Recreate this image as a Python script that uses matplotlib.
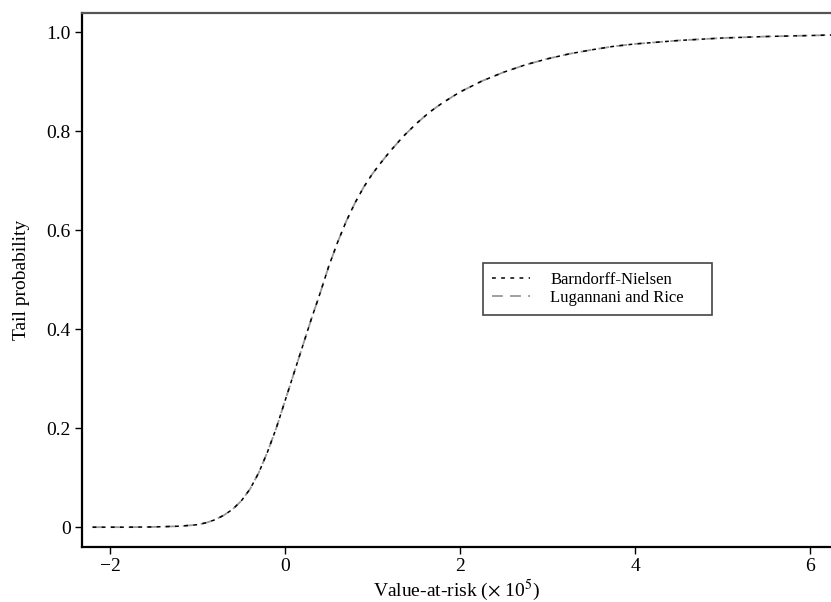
import numpy as np
import matplotlib.pyplot as plt

plt.rcParams['font.family'] = ['Liberation Serif', 'DejaVu Serif']
plt.rcParams['mathtext.fontset'] = 'stix'

# value-at-risk (x 10^5) and tail probability
var_x = [-2.2, -1.8, -1.5, -1.2, -1.0, -0.9, -0.8, -0.7, -0.6, -0.5, -0.4,
         -0.3, -0.2, -0.1, 0.0, 0.1, 0.2, 0.3, 0.4, 0.5, 0.6, 0.7, 0.8, 0.9,
         1.0, 1.1, 1.2, 1.35, 1.5, 1.65, 1.8, 2.0, 2.25, 2.5, 2.75, 3.0,
         3.25, 3.5, 3.75, 4.0, 4.5, 5.0, 5.5, 6.0, 6.24]
bn_prob = [0.0, 0.0, 0.0005, 0.002, 0.005, 0.009, 0.015, 0.024, 0.036, 0.053,
           0.077, 0.11, 0.152, 0.2, 0.255, 0.31, 0.365, 0.42, 0.472, 0.527,
           0.575, 0.618, 0.655, 0.687, 0.714, 0.737, 0.759, 0.789, 0.815,
           0.838, 0.857, 0.879, 0.901, 0.919, 0.934, 0.946, 0.956, 0.964,
           0.971, 0.976, 0.983, 0.988, 0.991, 0.993, 0.994]
lr_prob = [0.0, 0.0, 0.0005, 0.002, 0.005, 0.009, 0.015, 0.024, 0.036, 0.053,
           0.077, 0.11, 0.152, 0.2, 0.255, 0.31, 0.365, 0.42, 0.472, 0.527,
           0.575, 0.618, 0.655, 0.687, 0.714, 0.737, 0.759, 0.789, 0.815,
           0.838, 0.857, 0.879, 0.901, 0.919, 0.934, 0.946, 0.956, 0.964,
           0.971, 0.976, 0.983, 0.988, 0.991, 0.993, 0.994]

x_ticks = [-2, 0, 2, 4, 6]
x_labels = ['\u22122', '0', '2', '4', '6']
y_ticks = [0, 0.2, 0.4, 0.6, 0.8, 1.0]
y_labels = ['0', '0.2', '0.4', '0.6', '0.8', '1.0']

fig = plt.figure(figsize=(8.31, 6.02), dpi=100)
ax = fig.add_axes([0.0987, 0.0914, 0.9013, 0.8866])

ax.plot(var_x, lr_prob, color='#999999', lw=1.3, dashes=(6, 4), label='Lugannani and Rice')
ax.plot(var_x, bn_prob, color='black', lw=1.1, dashes=(2.5, 3.5), label='Barndorff-Nielsen')

ax.set_xlim(-2.32, 6.24)
ax.set_ylim(-0.04, 1.038)
ax.set_xticks(x_ticks)
ax.set_xticklabels(x_labels)
ax.set_yticks(y_ticks)
ax.set_yticklabels(y_labels)
ax.tick_params(direction='out', length=5, width=1, labelsize=14, pad=3)

ax.spines['right'].set_visible(False)
ax.spines['top'].set_color('#555555')
ax.spines['top'].set_linewidth(1.6)
ax.spines['left'].set_linewidth(1.6)
ax.spines['bottom'].set_linewidth(1.6)

ax.set_xlabel('Value-at-risk ($\\times$ 10$^5$)', fontsize=14, labelpad=2)
ax.set_ylabel('Tail probability', fontsize=14, labelpad=12)

# legend box spans a fixed width (mode='expand')
handles, labels = ax.get_legend_handles_labels()
leg = ax.legend(handles[::-1], labels[::-1], loc='upper left',
                bbox_to_anchor=(0.535, 0.44, 0.306, 0.092), mode='expand',
                fontsize=12, frameon=True, fancybox=False,
                edgecolor='#444444', framealpha=1, handlelength=2.3,
                handletextpad=1.2, borderpad=0.55, labelspacing=0.1,
                borderaxespad=0)
leg.get_frame().set_linewidth(1.2)

fig.savefig('out.png', dpi=100)
